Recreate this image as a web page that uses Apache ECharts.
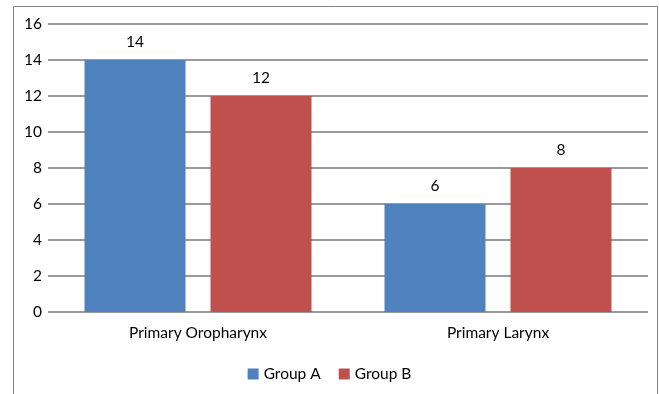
<!DOCTYPE html>
<html>
<head>
<meta charset="utf-8">
<script src="https://cdn.jsdelivr.net/npm/echarts@6/dist/echarts.min.js"></script>
<style>
  html, body { margin: 0; padding: 0; background: #fff; }
  #chart { width: 659px; height: 394px; }
</style>
</head>
<body>
<div id="chart"></div>
<script>
// Site of primary tumour, counts per group
const categories = ['Primary Oropharynx', 'Primary Larynx'];
const groupA = [14, 6];
const groupB = [12, 8];
const seriesNames = ['Group A', 'Group B'];

const font = 'Lato, "Open Sans", sans-serif';
const fs = 15.5;
const chart = echarts.init(document.getElementById('chart'));

chart.setOption({
  animation: false,
  textStyle: { fontFamily: font },
  graphic: [
    {
      type: 'polyline',
      shape: { points: [[13.5, 394], [13.5, 6.5], [657.5, 6.5], [657.5, 394]] },
      style: { stroke: '#808080', lineWidth: 1, fill: null }
    }
  ],
  grid: { left: 48, right: 11, top: 24, bottom: 82 },
  legend: {
    data: seriesNames,
    bottom: 7,
    left: 'center',
    itemWidth: 11,
    itemHeight: 11,
    itemGap: 18,
    icon: 'rect',
    textStyle: { fontSize: fs, color: '#000', fontFamily: font }
  },
  xAxis: {
    type: 'category',
    data: categories,
    axisTick: { show: false },
    axisLine: { show: false },
    axisLabel: { fontSize: fs, color: '#000', margin: 13, fontFamily: font }
  },
  yAxis: {
    type: 'value',
    min: 0,
    max: 16,
    interval: 2,
    axisLine: { show: false },
    axisTick: { show: false },
    axisLabel: { fontSize: fs, color: '#000', margin: 6, fontFamily: font },
    splitLine: { lineStyle: { color: '#9a9a9a', width: 2 } }
  },
  series: [
    {
      name: seriesNames[0],
      type: 'bar',
      data: groupA,
      barWidth: 101,
      barGap: '24.75%',
      itemStyle: { color: '#4f81bd' },
      label: { show: true, position: 'top', distance: 10, fontSize: fs, color: '#000', fontFamily: font }
    },
    {
      name: seriesNames[1],
      type: 'bar',
      data: groupB,
      barWidth: 101,
      itemStyle: { color: '#c0504d' },
      label: { show: true, position: 'top', distance: 10, fontSize: fs, color: '#000', fontFamily: font }
    }
  ]
});
</script>
</body>
</html>
